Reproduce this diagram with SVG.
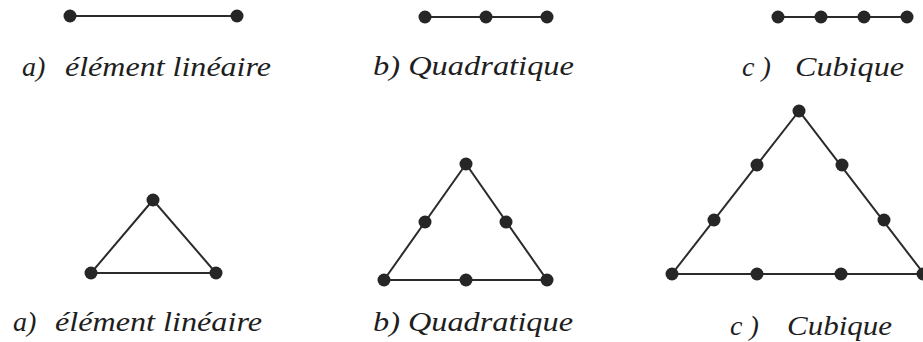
<svg xmlns="http://www.w3.org/2000/svg" width="923" height="342" viewBox="0 0 923 342">
<style>
.e{stroke:#2b2b2b;stroke-width:2;fill:none}
.n{fill:#262626}
.t{font-family:"Liberation Serif","DejaVu Serif",serif;font-style:italic;font-size:28px;fill:#1e1e1e}
</style>
<rect width="923" height="342" fill="#fff"/>
<g id="connectors">
<line class="e" x1="70" y1="16" x2="237" y2="16"/>
<line class="e" x1="425" y1="17" x2="547" y2="17"/>
<line class="e" x1="778" y1="17" x2="907" y2="17"/>
<polygon class="e" points="153,200 91,273 216,273"/>
<polygon class="e" points="466,164 384,280 547,280"/>
<polygon class="e" points="799,111 672,274 924,274"/>
</g>
<g id="n-a1"><circle class="n" cx="70" cy="16" r="6.5"/></g>
<g id="n-a2"><circle class="n" cx="237" cy="16" r="6.5"/></g>
<g id="n-b1"><circle class="n" cx="425" cy="17" r="6.5"/></g>
<g id="n-b2"><circle class="n" cx="486" cy="17" r="6.5"/></g>
<g id="n-b3"><circle class="n" cx="547" cy="17" r="6.5"/></g>
<g id="n-c1"><circle class="n" cx="778" cy="17" r="6.5"/></g>
<g id="n-c2"><circle class="n" cx="821" cy="17" r="6.5"/></g>
<g id="n-c3"><circle class="n" cx="864" cy="17" r="6.5"/></g>
<g id="n-c4"><circle class="n" cx="907" cy="17" r="6.5"/></g>
<g id="n-ta1"><circle class="n" cx="153" cy="200" r="6.5"/></g>
<g id="n-ta2"><circle class="n" cx="91" cy="273" r="6.5"/></g>
<g id="n-ta3"><circle class="n" cx="216" cy="273" r="6.5"/></g>
<g id="n-tb1"><circle class="n" cx="466" cy="164" r="6.5"/></g>
<g id="n-tb2"><circle class="n" cx="425" cy="222" r="6.5"/></g>
<g id="n-tb3"><circle class="n" cx="506" cy="222" r="6.5"/></g>
<g id="n-tb4"><circle class="n" cx="384" cy="280" r="6.5"/></g>
<g id="n-tb5"><circle class="n" cx="466" cy="280" r="6.5"/></g>
<g id="n-tb6"><circle class="n" cx="547" cy="280" r="6.5"/></g>
<g id="n-tc1"><circle class="n" cx="799" cy="111" r="6.5"/></g>
<g id="n-tc2"><circle class="n" cx="757" cy="165" r="6.5"/></g>
<g id="n-tc3"><circle class="n" cx="842" cy="165" r="6.5"/></g>
<g id="n-tc4"><circle class="n" cx="714" cy="220" r="6.5"/></g>
<g id="n-tc5"><circle class="n" cx="884" cy="220" r="6.5"/></g>
<g id="n-tc6"><circle class="n" cx="672" cy="274" r="6.5"/></g>
<g id="n-tc7"><circle class="n" cx="757" cy="274" r="6.5"/></g>
<g id="n-tc8"><circle class="n" cx="841" cy="274" r="6.5"/></g>
<g id="n-tc9"><circle class="n" cx="923" cy="274" r="6.5"/></g>
<g id="labels">
<text class="t" x="22" y="76">a)</text>
<text class="t" x="65" y="76" textLength="206" lengthAdjust="spacingAndGlyphs">élément linéaire</text>
<text class="t" x="373" y="75" textLength="201" lengthAdjust="spacingAndGlyphs">b) Quadratique</text>
<text class="t" x="742" y="76">c )</text>
<text class="t" x="795" y="76" textLength="109" lengthAdjust="spacingAndGlyphs">Cubique</text>
<text class="t" x="13" y="331">a)</text>
<text class="t" x="55" y="331" textLength="207" lengthAdjust="spacingAndGlyphs">élément linéaire</text>
<text class="t" x="373" y="331" textLength="200" lengthAdjust="spacingAndGlyphs">b) Quadratique</text>
<text class="t" x="730" y="335">c )</text>
<text class="t" x="787" y="335" textLength="105" lengthAdjust="spacingAndGlyphs">Cubique</text>
</g>
</svg>
